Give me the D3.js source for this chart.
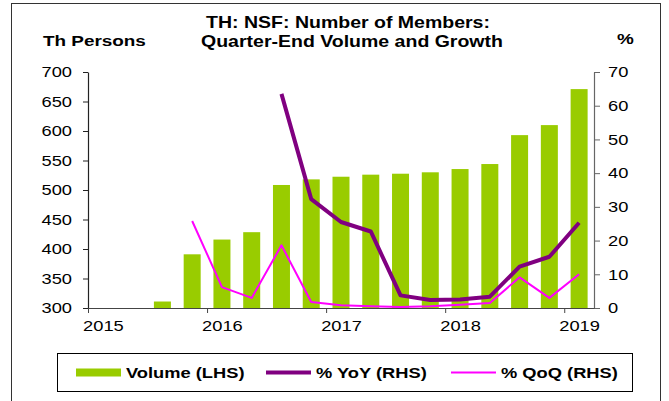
<!DOCTYPE html>
<html>
<head>
<meta charset="utf-8">
<script src="https://cdn.jsdelivr.net/npm/d3@7"></script>
<style>
  html, body { margin: 0; padding: 0; background: #fff; }
  svg { display: block; font-family: "Liberation Sans", Arial, sans-serif; }
</style>
</head>
<body>
<svg id="chart" width="669" height="401"></svg>
<script>
// ---- data ----
const quarters = ["2015Q3","2015Q4","2016Q1","2016Q2","2016Q3","2016Q4","2017Q1","2017Q2",
                  "2017Q3","2017Q4","2018Q1","2018Q2","2018Q3","2018Q4","2019Q1"];
const volume = [311, 391, 416, 428.5, 508.5, 518, 522.5, 526, 527.6, 530, 535.5, 544, 593, 610, 671];
const yoy    = [null, null, null, null, 63.5, 32.3, 25.5, 22.7, 3.75, 2.4, 2.5, 3.35, 12.3, 15.2, 25.3];
const qoq    = [null, 25.8, 6.2, 3.0, 18.6, 1.8, 0.8, 0.5, 0.3, 0.5, 1.0, 1.5, 9.1, 3.0, 10.0];
const leftTicks  = [300, 350, 400, 450, 500, 550, 600, 650, 700];
const rightTicks = [0, 10, 20, 30, 40, 50, 60, 70];
const yearTicks  = [2015, 2016, 2017, 2018, 2019];
const titleLines = ["TH: NSF: Number of Members:", "Quarter-End Volume and Growth"];
const legendLabels = ["Volume (LHS)", "% YoY (RHS)", "% QoQ (RHS)"];

// ---- layout ----
const SX = 1.22; // horizontal text stretch seen in the reference
const plot = { left: 88, right: 594, top: 72, bottom: 308 };
const colBar = "#99CC00", colYoY = "#800080", colQoQ = "#FF00FF";

const svg = d3.select("#chart");

// frame
svg.append("rect").attr("x", 11.5).attr("y", 3.5).attr("width", 649).attr("height", 400)
  .attr("fill", "#fff").attr("stroke", "#333").attr("stroke-width", 1);

const qPos = q => +q.slice(0, 4) + (+q.slice(5) - 0.5) / 4;

const x = d3.scaleLinear().domain([2015, 2019.25]).range([plot.left, plot.right]);
const yL = d3.scaleLinear().domain([300, 700]).range([plot.bottom, plot.top]);
const yR = d3.scaleLinear().domain([0, 70]).range([plot.bottom, plot.top]);

function stretchedText(g, tx, ty, str, opts) {
  const t = g.append("text")
    .attr("transform", `translate(${tx},${ty}) scale(${SX},1)`)
    .attr("font-size", opts.size).attr("font-weight", opts.weight || "normal")
    .attr("text-anchor", opts.anchor || "start").attr("fill", "#000")
    .text(str);
  return t;
}

// bars
const barW = 17;
svg.append("g").selectAll("rect").data(quarters).join("rect")
  .attr("x", (d) => x(qPos(d)) - barW / 2)
  .attr("y", (d, i) => yL(volume[i]))
  .attr("width", barW)
  .attr("height", (d, i) => yL(300) - yL(volume[i]))
  .attr("fill", colBar);

// axes
const axL = svg.append("g").attr("transform", `translate(${plot.left},0)`)
  .call(d3.axisLeft(yL).tickValues(leftTicks).tickSize(5).tickSizeOuter(0).tickFormat(d3.format("d")));
axL.select(".domain").attr("stroke", "#222");
axL.selectAll(".tick line").attr("stroke", "#222");
axL.selectAll("text").attr("font-size", 15).attr("fill", "#000")
  .attr("x", -16 / SX).attr("transform", `scale(${SX},1)`);

const axR = svg.append("g").attr("transform", `translate(${plot.right},0)`)
  .call(d3.axisRight(yR).tickValues(rightTicks).tickSize(6).tickSizeOuter(0).tickFormat(d3.format("d")));
axR.select(".domain").attr("stroke", "#666");
axR.selectAll(".tick line").attr("stroke", "#666");
axR.selectAll("text").attr("font-size", 15).attr("fill", "#000")
  .attr("x", 14 / SX).attr("transform", `scale(${SX},1)`);

const labShift = x(2015.125) - x(2015);
const axB = svg.append("g").attr("transform", `translate(0,${plot.bottom})`)
  .call(d3.axisBottom(x).tickValues(yearTicks).tickSize(5).tickSizeOuter(0).tickFormat(d3.format("d")));
axB.select(".domain").attr("stroke", "#444");
axB.selectAll(".tick line").attr("stroke", "#444");
axB.selectAll("text").attr("font-size", 15).attr("fill", "#000")
  .attr("y", 12).attr("x", labShift / SX).attr("transform", `scale(${SX},1)`);
svg.selectAll(".domain").attr("stroke-width", 1.2);

// lines
const lineQ = d3.line().defined((d, i) => qoq[i] != null)
  .x(d => x(qPos(d))).y((d, i) => yR(qoq[i]));
svg.append("path").datum(quarters).attr("d", lineQ)
  .attr("fill", "none").attr("stroke", colQoQ).attr("stroke-width", 2).attr("stroke-linejoin", "round");

const lineY = d3.line().defined((d, i) => yoy[i] != null)
  .x(d => x(qPos(d))).y((d, i) => yR(yoy[i]));
svg.append("path").datum(quarters).attr("d", lineY)
  .attr("fill", "none").attr("stroke", colYoY).attr("stroke-width", 4).attr("stroke-linejoin", "round");

// titles
stretchedText(svg, 348, 28, titleLines[0], { size: 16, weight: "bold", anchor: "middle" });
stretchedText(svg, 352, 47, titleLines[1], { size: 16, weight: "bold", anchor: "middle" });
stretchedText(svg, 43, 46, "Th Persons", { size: 15.5, weight: "bold" });
stretchedText(svg, 617, 44, "%", { size: 15.5, weight: "bold" });

// legend
const lg = svg.append("g");
lg.append("rect").attr("x", 57.5).attr("y", 353.5).attr("width", 575).attr("height", 38)
  .attr("fill", "#fff").attr("stroke", "#000").attr("stroke-width", 1);
const ly = 372.5;
lg.append("rect").attr("x", 76).attr("y", ly - 4).attr("width", 45).attr("height", 8).attr("fill", colBar);
lg.append("line").attr("x1", 266).attr("x2", 311).attr("y1", ly).attr("y2", ly)
  .attr("stroke", colYoY).attr("stroke-width", 4);
lg.append("line").attr("x1", 451).attr("x2", 496).attr("y1", ly).attr("y2", ly)
  .attr("stroke", colQoQ).attr("stroke-width", 2);
stretchedText(lg, 126, 378, legendLabels[0], { size: 15, weight: "bold" });
stretchedText(lg, 316, 378, legendLabels[1], { size: 15, weight: "bold" });
stretchedText(lg, 501, 378, legendLabels[2], { size: 15, weight: "bold" });
</script>
</body>
</html>
